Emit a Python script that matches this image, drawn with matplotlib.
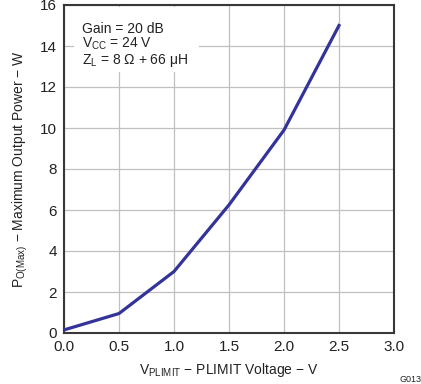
import matplotlib
matplotlib.use('Agg')
import matplotlib.pyplot as plt
from matplotlib.patches import Rectangle

plt.rcParams['font.family'] = 'Liberation Sans'
plt.rcParams['mathtext.fontset'] = 'custom'
plt.rcParams['mathtext.rm'] = 'Liberation Sans'
plt.rcParams['mathtext.it'] = 'Liberation Sans'

# data
plimit_v = [0.0, 0.5, 1.0, 1.5, 2.0, 2.5]
power_w = [0.15, 0.95, 3.0, 6.25, 9.9, 15.0]
x_ticks = [0.0, 0.5, 1.0, 1.5, 2.0, 2.5, 3.0]
y_ticks = [0, 2, 4, 6, 8, 10, 12, 14, 16]

fig = plt.figure(figsize=(4.21, 3.84), dpi=100)
ax = fig.add_axes([64 / 421, 1 - 333 / 384, 330 / 421, 328 / 384])
ax.set_axisbelow(True)

ax.plot(plimit_v, power_w, color='#333399', lw=2.3, zorder=3)

ax.set_xlim(0, 3.0)
ax.set_ylim(0, 16)
ax.set_xticks(x_ticks)
ax.set_xticklabels(['%.1f' % t for t in x_ticks])
ax.set_yticks(y_ticks)
ax.grid(True, color='#c0c0c0', lw=0.9)
ax.tick_params(length=0, labelsize=11, colors='#222222')
ax.tick_params(axis='x', pad=5)
ax.tick_params(axis='y', pad=5)
for s in ax.spines.values():
    s.set_color('#383838')
    s.set_linewidth(1.5)

ax.set_xlabel(r'V$_{\mathrm{PLIMIT}}$ $-$ PLIMIT Voltage $-$ V', fontsize=10, color='#222222', labelpad=5)
ax.set_ylabel(r'P$_{\mathrm{O(Max)}}$ $-$ Maximum Output Power $-$ W', fontsize=10, color='#222222', labelpad=7)

# white box behind the conditions text
ax.add_patch(Rectangle((0.03, 0.795), 0.38, 0.2, transform=ax.transAxes,
                       facecolor='white', edgecolor='none', zorder=1))
ax.text(0.055, 0.948,
        'Gain = 20 dB\n' + r'V$_{\mathrm{CC}}$ = 24 V' + '\n' + r'Z$_{\mathrm{L}}$ = 8 $\Omega$ + 66 $\mu$H',
        transform=ax.transAxes, va='top', ha='left', fontsize=10, color='#222222',
        linespacing=1.0, zorder=4)

fig.text(400 / 421, 1 - 380 / 384, 'G013', fontsize=6.5, ha='left', va='center', color='#222222')

fig.savefig('out.png', dpi=100)
